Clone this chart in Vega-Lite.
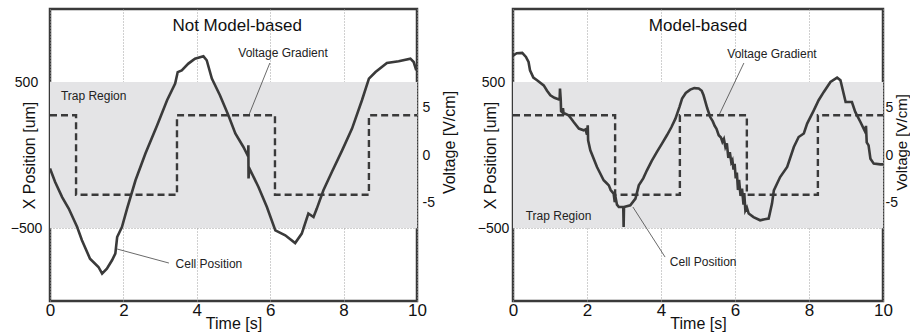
{
  "$schema": "https://vega.github.io/schema/vega-lite/v6.json",
  "autosize": {"type": "pad"},
  "padding": {"left": 8, "top": 7, "right": 0, "bottom": 0},
  "background": "white",
  "bounds": "flush",
  "spacing": 96,
  "config": {
    "font": "Liberation Sans",
    "view": {"stroke": "#3a3a3a", "strokeWidth": 2.5},
    "axis": {"domain": false, "ticks": false, "zindex": 1, "gridColor": "#a0a0a0", "gridDash": [1, 2], "gridWidth": 1, "gridOpacity": 1, "labelColor": "#111", "titleColor": "#111", "titleFontWeight": "normal", "labelOverlap": false}
  },
  "datasets": {
    "band": [{"t0": 0, "t1": 10, "lo": -500, "hi": 500}],
    "cellA": [
      {"t": 0.00, "x": -93}, {"t": 0.14, "x": -185}, {"t": 0.33, "x": -288}, {"t": 0.51, "x": -367}, {"t": 0.74, "x": -493},
      {"t": 0.87, "x": -584}, {"t": 1.09, "x": -710}, {"t": 1.32, "x": -767}, {"t": 1.42, "x": -812}, {"t": 1.55, "x": -778},
      {"t": 1.69, "x": -721}, {"t": 1.78, "x": -675}, {"t": 1.83, "x": -562}, {"t": 1.96, "x": -493}, {"t": 2.10, "x": -367},
      {"t": 2.33, "x": -173}, {"t": 2.60, "x": 10}, {"t": 2.92, "x": 203}, {"t": 3.19, "x": 375}, {"t": 3.41, "x": 489},
      {"t": 3.48, "x": 568}, {"t": 3.59, "x": 580}, {"t": 3.77, "x": 626}, {"t": 3.95, "x": 660}, {"t": 4.18, "x": 676},
      {"t": 4.27, "x": 649}, {"t": 4.41, "x": 523}, {"t": 4.63, "x": 409}, {"t": 4.86, "x": 272}, {"t": 5.05, "x": 147},
      {"t": 5.27, "x": 55}, {"t": 5.40, "x": -10}, {"t": 5.405, "x": 67}, {"t": 5.41, "x": -161}, {"t": 5.43, "x": -90},
      {"t": 5.68, "x": -219}, {"t": 5.91, "x": -356}, {"t": 6.14, "x": -516}, {"t": 6.41, "x": -550}, {"t": 6.68, "x": -603},
      {"t": 6.86, "x": -538}, {"t": 7.04, "x": -401}, {"t": 7.18, "x": -425}, {"t": 7.27, "x": -367}, {"t": 7.45, "x": -242},
      {"t": 7.68, "x": -116}, {"t": 7.96, "x": 32}, {"t": 8.23, "x": 181}, {"t": 8.50, "x": 375}, {"t": 8.69, "x": 523},
      {"t": 8.87, "x": 568}, {"t": 9.18, "x": 630}, {"t": 9.50, "x": 642}, {"t": 9.82, "x": 660}, {"t": 9.91, "x": 637},
      {"t": 9.98, "x": 580}
    ],
    "cellB": [
      {"t": 0.00, "x": 680}, {"t": 0.10, "x": 697}, {"t": 0.25, "x": 699}, {"t": 0.35, "x": 672}, {"t": 0.42, "x": 637},
      {"t": 0.46, "x": 580}, {"t": 0.55, "x": 530}, {"t": 0.65, "x": 512}, {"t": 0.83, "x": 477}, {"t": 0.92, "x": 440},
      {"t": 1.01, "x": 409}, {"t": 1.12, "x": 392}, {"t": 1.24, "x": 380}, {"t": 1.26, "x": 380}, {"t": 1.27, "x": 455},
      {"t": 1.29, "x": 380}, {"t": 1.30, "x": 300}, {"t": 1.32, "x": 295}, {"t": 1.35, "x": 320}, {"t": 1.37, "x": 280},
      {"t": 1.41, "x": 283}, {"t": 1.50, "x": 272}, {"t": 1.57, "x": 250}, {"t": 1.64, "x": 226}, {"t": 1.78, "x": 181},
      {"t": 1.91, "x": 169}, {"t": 1.96, "x": 175}, {"t": 2.00, "x": 140}, {"t": 2.02, "x": 203}, {"t": 2.03, "x": 100},
      {"t": 2.09, "x": 32}, {"t": 2.27, "x": -82}, {"t": 2.45, "x": -173}, {"t": 2.52, "x": -190}, {"t": 2.59, "x": -208},
      {"t": 2.64, "x": -240}, {"t": 2.72, "x": -264}, {"t": 2.75, "x": -322}, {"t": 2.78, "x": -300}, {"t": 2.81, "x": -340},
      {"t": 2.86, "x": -356}, {"t": 2.95, "x": -356}, {"t": 2.98, "x": -356}, {"t": 2.99, "x": -493}, {"t": 3.00, "x": -356},
      {"t": 3.17, "x": -345}, {"t": 3.31, "x": -299}, {"t": 3.40, "x": -208}, {"t": 3.52, "x": -160}, {"t": 3.62, "x": -105},
      {"t": 3.75, "x": -40}, {"t": 3.89, "x": 21}, {"t": 4.03, "x": 80}, {"t": 4.16, "x": 135}, {"t": 4.28, "x": 190},
      {"t": 4.39, "x": 249}, {"t": 4.50, "x": 330}, {"t": 4.57, "x": 386}, {"t": 4.67, "x": 425}, {"t": 4.79, "x": 448},
      {"t": 4.90, "x": 458}, {"t": 5.02, "x": 455}, {"t": 5.10, "x": 440}, {"t": 5.15, "x": 409}, {"t": 5.25, "x": 320},
      {"t": 5.33, "x": 260}, {"t": 5.40, "x": 230}, {"t": 5.45, "x": 200}, {"t": 5.50, "x": 180}, {"t": 5.56, "x": 135},
      {"t": 5.62, "x": 120}, {"t": 5.66, "x": 90}, {"t": 5.70, "x": 110}, {"t": 5.74, "x": 55}, {"t": 5.78, "x": 80},
      {"t": 5.82, "x": -20}, {"t": 5.86, "x": 20}, {"t": 5.90, "x": -50}, {"t": 5.93, "x": -36}, {"t": 5.96, "x": -100},
      {"t": 5.99, "x": -60}, {"t": 6.02, "x": -160}, {"t": 6.05, "x": -120}, {"t": 6.08, "x": -240}, {"t": 6.11, "x": -170},
      {"t": 6.15, "x": -280}, {"t": 6.19, "x": -230}, {"t": 6.23, "x": -340}, {"t": 6.25, "x": -260}, {"t": 6.28, "x": -380},
      {"t": 6.32, "x": -360}, {"t": 6.37, "x": -401}, {"t": 6.50, "x": -425}, {"t": 6.68, "x": -447}, {"t": 6.80, "x": -440},
      {"t": 6.91, "x": -436}, {"t": 7.00, "x": -333}, {"t": 7.05, "x": -242}, {"t": 7.22, "x": -151}, {"t": 7.41, "x": -82},
      {"t": 7.59, "x": 55}, {"t": 7.72, "x": 123}, {"t": 7.86, "x": 147}, {"t": 7.95, "x": 215}, {"t": 8.13, "x": 306},
      {"t": 8.26, "x": 375}, {"t": 8.40, "x": 432}, {"t": 8.58, "x": 500}, {"t": 8.76, "x": 530}, {"t": 8.85, "x": 512},
      {"t": 8.99, "x": 363}, {"t": 9.16, "x": 363}, {"t": 9.25, "x": 295}, {"t": 9.39, "x": 226}, {"t": 9.52, "x": 158},
      {"t": 9.54, "x": 200}, {"t": 9.56, "x": 87}, {"t": 9.61, "x": 66}, {"t": 9.66, "x": -25}, {"t": 9.75, "x": -59},
      {"t": 9.93, "x": -64}, {"t": 10.00, "x": -64}
    ],
    "voltA": [{"t": 0, "v": 4.15}, {"t": 0.71, "v": -4.15}, {"t": 3.46, "v": 4.15}, {"t": 6.13, "v": -4.15}, {"t": 8.69, "v": 4.15}, {"t": 10, "v": 4.15}],
    "voltB": [{"t": 0, "v": 4.15}, {"t": 2.76, "v": -4.15}, {"t": 4.51, "v": 4.15}, {"t": 6.32, "v": -4.15}, {"t": 8.24, "v": 4.15}, {"t": 10, "v": 4.15}],
    "titleA": [{"t": 5.1, "y": 881, "label": "Not Model-based"}],
    "titleB": [{"t": 5.0, "y": 884, "label": "Model-based"}],
    "annoA": [
      {"t": 6.35, "y": 699, "label": "Voltage Gradient"},
      {"t": 1.19, "y": 404, "label": "Trap Region"},
      {"t": 4.33, "y": -747, "label": "Cell Position"}
    ],
    "annoB": [
      {"t": 7.0, "y": 692, "label": "Voltage Gradient"},
      {"t": 1.23, "y": -418, "label": "Trap Region"},
      {"t": 5.14, "y": -733, "label": "Cell Position"}
    ],
    "leadA": [
      {"t": 5.99, "y": 630, "t2": 5.42, "y2": 274},
      {"t": 3.24, "y": -740, "t2": 1.83, "y2": -644}
    ],
    "leadB": [
      {"t": 6.24, "y": 630, "t2": 5.57, "y2": 274},
      {"t": 4.11, "y": -699, "t2": 3.24, "y2": -356}
    ]
  },
  "hconcat": [
    {
      "width": 367,
      "height": 292,
      "resolve": {"scale": {"y": "independent"}, "axis": {"y": "independent"}},
      "layer": [
        {
          "layer": [
            {
              "data": {"name": "band"},
              "mark": {"type": "rect", "color": "#e4e4e6"},
              "encoding": {
                "x": {"field": "t0", "type": "quantitative", "scale": {"domain": [0, 10], "nice": false},
                  "axis": {"values": [0, 2, 4, 6, 8, 10], "title": "Time [s]", "labelFontSize": 17, "labelPadding": 14, "labelBaseline": "alphabetic", "labelFlush": false, "titleFontSize": 16, "titleY": 27, "titleBaseline": "alphabetic", "grid": true}},
                "x2": {"field": "t1"},
                "y": {"field": "lo", "type": "quantitative", "scale": {"domain": [-1000, 1000], "nice": false},
                  "axis": {"values": [-500, 500], "format": "d", "title": "X Position [um]", "labelFontSize": 14, "labelAlign": "center", "labelBaseline": "middle", "labelPadding": 24, "titleFontSize": 16, "titleX": -21, "titleY": 146, "titleAngle": 270, "titleAlign": "center", "titleBaseline": "middle", "grid": true}},
                "y2": {"field": "hi"}
              }
            },
            {
              "data": {"name": "cellA"},
              "mark": {"type": "line", "color": "#3a3a3a", "strokeWidth": 2.6, "clip": true},
              "encoding": {
                "x": {"field": "t", "type": "quantitative", "scale": {"domain": [0, 10], "nice": false}},
                "y": {"field": "x", "type": "quantitative", "scale": {"domain": [-1000, 1000], "nice": false}}
              }
            },
            {
              "data": {"name": "leadA"},
              "mark": {"type": "rule", "color": "#444", "strokeWidth": 0.8},
              "encoding": {
                "x": {"field": "t", "type": "quantitative"},
                "y": {"field": "y", "type": "quantitative"},
                "x2": {"field": "t2"},
                "y2": {"field": "y2"}
              }
            },
            {
              "data": {"name": "annoA"},
              "mark": {"type": "text", "fontSize": 12, "color": "#222", "align": "center", "baseline": "middle"},
              "encoding": {
                "x": {"field": "t", "type": "quantitative"},
                "y": {"field": "y", "type": "quantitative"},
                "text": {"field": "label"}
              }
            },
            {
              "data": {"name": "titleA"},
              "mark": {"type": "text", "fontSize": 17, "color": "#111", "align": "center", "baseline": "middle"},
              "encoding": {
                "x": {"field": "t", "type": "quantitative"},
                "y": {"field": "y", "type": "quantitative"},
                "text": {"field": "label"}
              }
            }
          ]
        },
        {
          "data": {"name": "voltA"},
          "mark": {"type": "line", "interpolate": "step-after", "color": "#3a3a3a", "strokeWidth": 2.4, "strokeDash": [7, 4]},
          "encoding": {
            "x": {"field": "t", "type": "quantitative", "scale": {"domain": [0, 10], "nice": false}},
            "y": {"field": "v", "type": "quantitative", "scale": {"domain": [-15.25, 15.25], "nice": false},
              "axis": {"orient": "right", "values": [-5, 0, 5], "labelExpr": "replace(datum.label, '−', '-')", "title": "Voltage [V/cm]", "labelFontSize": 14, "labelAlign": "left", "labelBaseline": "middle", "labelPadding": 5, "titleFontSize": 16, "titleX": 32, "titleY": 133, "titleAngle": 270, "titleAlign": "center", "titleBaseline": "middle", "grid": false}}
          }
        }
      ]
    },
    {
      "width": 370,
      "height": 292,
      "resolve": {"scale": {"y": "independent"}, "axis": {"y": "independent"}},
      "layer": [
        {
          "layer": [
            {
              "data": {"name": "band"},
              "mark": {"type": "rect", "color": "#e4e4e6"},
              "encoding": {
                "x": {"field": "t0", "type": "quantitative", "scale": {"domain": [0, 10], "nice": false},
                  "axis": {"values": [0, 2, 4, 6, 8, 10], "title": "Time [s]", "labelFontSize": 17, "labelPadding": 14, "labelBaseline": "alphabetic", "labelFlush": false, "titleFontSize": 16, "titleY": 27, "titleBaseline": "alphabetic", "grid": true}},
                "x2": {"field": "t1"},
                "y": {"field": "lo", "type": "quantitative", "scale": {"domain": [-1000, 1000], "nice": false},
                  "axis": {"values": [-500, 500], "format": "d", "title": "X Position  [um]", "labelFontSize": 14, "labelAlign": "center", "labelBaseline": "middle", "labelPadding": 20, "titleFontSize": 16, "titleX": -23, "titleY": 146, "titleAngle": 270, "titleAlign": "center", "titleBaseline": "middle", "grid": true}},
                "y2": {"field": "hi"}
              }
            },
            {
              "data": {"name": "cellB"},
              "mark": {"type": "line", "color": "#3a3a3a", "strokeWidth": 2.6, "clip": true},
              "encoding": {
                "x": {"field": "t", "type": "quantitative", "scale": {"domain": [0, 10], "nice": false}},
                "y": {"field": "x", "type": "quantitative", "scale": {"domain": [-1000, 1000], "nice": false}}
              }
            },
            {
              "data": {"name": "leadB"},
              "mark": {"type": "rule", "color": "#444", "strokeWidth": 0.8},
              "encoding": {
                "x": {"field": "t", "type": "quantitative"},
                "y": {"field": "y", "type": "quantitative"},
                "x2": {"field": "t2"},
                "y2": {"field": "y2"}
              }
            },
            {
              "data": {"name": "annoB"},
              "mark": {"type": "text", "fontSize": 12, "color": "#222", "align": "center", "baseline": "middle"},
              "encoding": {
                "x": {"field": "t", "type": "quantitative"},
                "y": {"field": "y", "type": "quantitative"},
                "text": {"field": "label"}
              }
            },
            {
              "data": {"name": "titleB"},
              "mark": {"type": "text", "fontSize": 17, "color": "#111", "align": "center", "baseline": "middle"},
              "encoding": {
                "x": {"field": "t", "type": "quantitative"},
                "y": {"field": "y", "type": "quantitative"},
                "text": {"field": "label"}
              }
            }
          ]
        },
        {
          "data": {"name": "voltB"},
          "mark": {"type": "line", "interpolate": "step-after", "color": "#3a3a3a", "strokeWidth": 2.4, "strokeDash": [7, 4]},
          "encoding": {
            "x": {"field": "t", "type": "quantitative", "scale": {"domain": [0, 10], "nice": false}},
            "y": {"field": "v", "type": "quantitative", "scale": {"domain": [-15.25, 15.25], "nice": false},
              "axis": {"orient": "right", "values": [-5, 0, 5], "labelExpr": "replace(datum.label, '−', '-')", "title": "Voltage [V/cm]", "labelFontSize": 14, "labelAlign": "left", "labelBaseline": "middle", "labelPadding": 2, "titleFontSize": 15, "titleX": 18, "titleY": 133, "titleAngle": 270, "titleAlign": "center", "titleBaseline": "middle", "grid": false}}
          }
        }
      ]
    }
  ]
}
